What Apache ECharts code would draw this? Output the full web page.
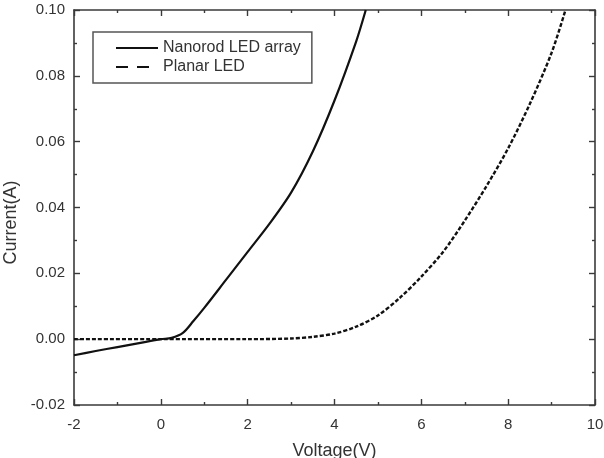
<!DOCTYPE html>
<html style="height: 100%">
<head>
    <meta charset="UTF-8">
    <title>I-V curves</title>
    <script type="text/javascript" src="https://cdn.jsdelivr.net/npm/echarts@6/dist/echarts.min.js"></script>
</head>
<body style="height: 100%; margin: 0; background: #fff">
    <div id="container" style="width: 604px; height: 458px"></div>
    <script type="text/javascript">
        // values
        var nanorodV = [-2, -1.5, -1, -0.5, 0, 0.25, 0.5, 0.75, 1.0, 1.5, 2.0, 2.5, 3.0, 3.5, 4.0, 4.5, 4.72];
        var nanorodI = [-0.0049, -0.0036, -0.0024, -0.0012, 0, 0.0004, 0.0018, 0.0055, 0.0095, 0.018, 0.0265, 0.035, 0.0445, 0.057, 0.0725, 0.0905, 0.1];
        var planarV = [-2, 0, 2, 3, 3.5, 4.0, 4.5, 5.0, 5.5, 6.0, 6.5, 7.0, 7.5, 8.0, 8.5, 9.0, 9.32];
        var planarI = [0, 0, 0, 0.0002, 0.0007, 0.0017, 0.0038, 0.0072, 0.0125, 0.019, 0.0265, 0.036, 0.0465, 0.058, 0.0715, 0.087, 0.1];
        var seriesNames = ['Nanorod LED array', 'Planar LED'];

        function pairs(xs, ys) {
            return xs.map(function (x, i) { return [x, ys[i]]; });
        }

        var font = 'Liberation Sans';
        var axisColor = '#3a3a3a';

        function frameAxis(pos, extra) {
            var a = {
                type: 'value',
                position: pos,
                axisLine: { show: true, onZero: false, lineStyle: { color: axisColor, width: 1.6 } },
                axisTick: { show: true, inside: true, length: 6, lineStyle: { color: axisColor, width: 1.4 } },
                minorTick: { show: true, splitNumber: 2, length: 3, lineStyle: { color: axisColor, width: 1.4 } },
                splitLine: { show: false },
                axisLabel: { show: false }
            };
            return Object.assign(a, extra);
        }

        var xRange = { min: -2, max: 10, interval: 2 };
        var yRange = { min: -0.02, max: 0.1, interval: 0.02 };

        var myChart = echarts.init(document.getElementById('container'));
        var option = {
            animation: false,
            grid: { left: 74, right: 9, top: 10, bottom: 53, outerBoundsMode: 'none' },
            legend: {
                orient: 'vertical',
                left: 93,
                top: 32,
                padding: [8, 11, 8, 22],
                itemWidth: 42,
                itemHeight: 12,
                itemGap: 3,
                borderColor: '#555',
                borderWidth: 1.5,
                itemStyle: { opacity: 0 },
                textStyle: { fontFamily: font, fontSize: 16, color: '#333', lineHeight: 16 },
                data: [
                    { name: seriesNames[0] },
                    { name: seriesNames[1], lineStyle: { type: [12, 9] } }
                ]
            },
            xAxis: [
                frameAxis('bottom', Object.assign({
                    name: 'Voltage(V)',
                    nameLocation: 'middle',
                    nameGap: 37,
                    nameTextStyle: { fontFamily: font, fontSize: 18, color: '#333' },
                    axisLabel: { show: true, margin: 12, fontFamily: font, fontSize: 15, color: '#333' }
                }, xRange)),
                frameAxis('top', Object.assign({}, xRange))
            ],
            yAxis: [
                frameAxis('left', Object.assign({
                    name: 'Current(A)',
                    nameLocation: 'middle',
                    nameGap: 52,
                    nameTextStyle: { fontFamily: font, fontSize: 18, color: '#333', padding: [0, 30, 0, 0] },
                    axisLabel: {
                        show: true, margin: 9, fontFamily: font, fontSize: 15, color: '#333',
                        formatter: function (v) { return v.toFixed(2); }
                    }
                }, yRange)),
                frameAxis('right', Object.assign({}, yRange))
            ],
            series: [
                {
                    name: seriesNames[0],
                    type: 'line',
                    symbol: 'none',
                    smooth: 0.3,
                    lineStyle: { color: '#111', width: 2.2 },
                    itemStyle: { color: '#111' },
                    data: pairs(nanorodV, nanorodI)
                },
                {
                    name: seriesNames[1],
                    type: 'line',
                    symbol: 'none',
                    smooth: 0.3,
                    lineStyle: { color: '#111', width: 2.4, type: [4, 2] },
                    itemStyle: { color: '#111' },
                    data: pairs(planarV, planarI)
                }
            ]
        };
        myChart.setOption(option);
    </script>
</body>
</html>
